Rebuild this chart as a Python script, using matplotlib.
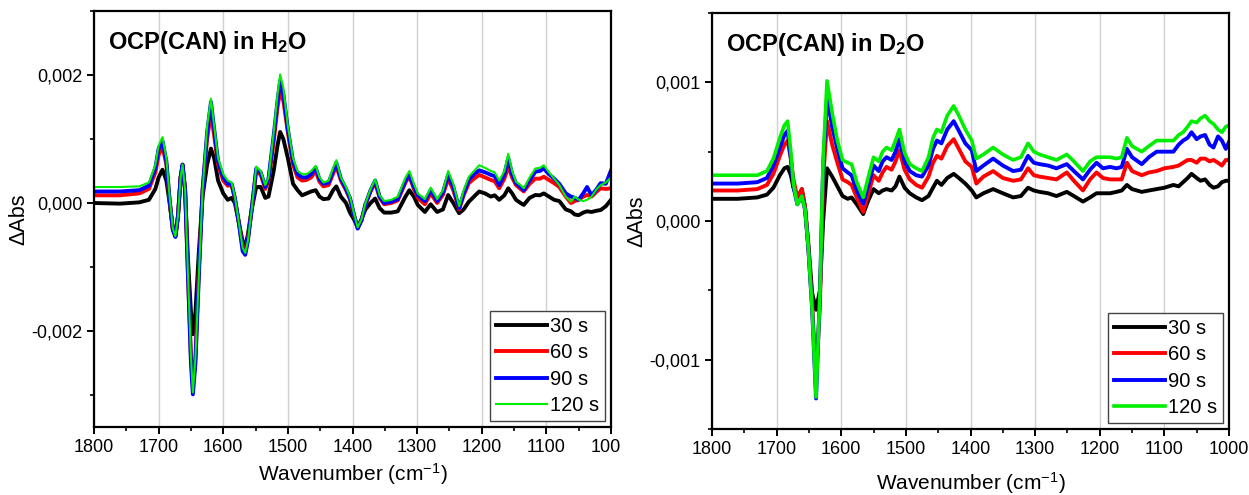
import matplotlib
matplotlib.use("Agg")
import matplotlib.pyplot as plt
from matplotlib.ticker import MultipleLocator, FuncFormatter
from matplotlib.transforms import Bbox

plt.rcParams['font.family'] = ['Liberation Sans', 'DejaVu Sans']
plt.rcParams['mathtext.fontset'] = 'custom'
plt.rcParams['mathtext.rm'] = 'Liberation Sans'
plt.rcParams['mathtext.bf'] = 'Liberation Sans:bold'
plt.rcParams['mathtext.default'] = 'regular'

# ---------------- data: left panel (H2O) ----------------
wn_h2o = [1800, 1760, 1730, 1715, 1705, 1700, 1694, 1688, 1683, 1678, 1674, 1670, 1666, 1663, 1659,
          1655, 1650, 1647, 1643, 1638, 1632, 1625, 1619, 1614, 1608, 1600, 1593, 1587, 1582, 1576,
          1570, 1566, 1562, 1556, 1549, 1542, 1535, 1530, 1522, 1516, 1512, 1507, 1500, 1492, 1485,
          1478, 1471, 1464, 1457, 1451, 1445, 1437, 1430, 1425, 1418, 1410, 1404, 1398, 1392, 1386,
          1380, 1372, 1365, 1358, 1351, 1340, 1330, 1318, 1312, 1305, 1299, 1288, 1279, 1269, 1260,
          1252, 1244, 1235, 1228, 1220, 1212, 1204, 1195, 1186, 1180, 1173, 1165, 1159, 1153, 1147,
          1140, 1135, 1126, 1117, 1110, 1104, 1096, 1088, 1080, 1070, 1062, 1056, 1050, 1043, 1037,
          1030, 1022, 1016, 1008, 1000]
h2o_30 = [0.0, -0.00001, 0.00001, 0.00005, 0.00022, 0.0004, 0.00052, 0.00035, 0.0, -0.0004, -0.00052, -0.0002, 0.0004, 0.00058, 0.0002,
          -0.0008, -0.0017, -0.00205, -0.0017, -0.0008, 0.0001, 0.0006, 0.00085, 0.0007, 0.00035, 0.00015, 0.00005, 0.00008, 0.0, -0.0003,
          -0.0006, -0.00068, -0.0005, -0.0001, 0.00025, 0.00025, 0.00008, 0.0001, 0.0005, 0.0009, 0.00111, 0.001, 0.0007, 0.0003, 0.0002,
          0.00012, 0.00015, 0.00018, 0.0002, 0.0001, 0.00006, 0.00007, 0.0002, 0.00026, 0.0001, 0.0, -0.00015, -0.00025, -0.00038, -0.00025,
          -0.0001, 0.0, 0.00007, -0.00008, -0.00015, -0.00015, -0.00013, 0.0001, 0.0002, 0.0001, -0.00003, -0.00014, -0.00002, -0.00014, -0.0001,
          0.000125, 0.0, -0.00016, -0.0001, 0.00002, 0.0001, 0.00018, 0.00015, 0.0001, 0.00012, 0.00005, 0.00012, 0.00023, 0.00015, 0.00005,
          0.0, -0.00003, 0.00008, 0.000125, 0.00012, 0.00015, 0.0001, 0.00005, 0.00003, -0.0001, -0.00013, -0.00018, -0.00019, -0.00015, -0.00013,
          -0.00014, -0.00012, -0.00011, -0.00005, 0.00005]
h2o_60 = [0.00012, 0.00012, 0.00015, 0.00022, 0.00048, 0.00075, 0.00088, 0.0006, 0.00003, -0.00042, -0.00052, -0.0002, 0.0004, 0.0006, 0.0002,
          -0.001, -0.0024, -0.00286, -0.0024, -0.0011, 0.0002, 0.001, 0.0014, 0.00105, 0.0006, 0.00035, 0.00027, 0.00028, 0.00006, -0.0003,
          -0.0007, -0.00076, -0.00057, -0.0001, 0.0005, 0.00044, 0.00022, 0.00034, 0.00095, 0.0015, 0.00173, 0.0016, 0.0011, 0.0006, 0.0004,
          0.00035, 0.00036, 0.0004, 0.0005, 0.00033, 0.00026, 0.00028, 0.00046, 0.00058, 0.00035, 0.0002, 0.00006, -0.00018, -0.00039, -0.00027,
          -0.00003, 0.00018, 0.00032, 0.00008, -0.00002, 0.0, 0.00004, 0.00032, 0.00042, 0.00022, 0.00008, -0.00002, 0.00015, 0.0, 0.00013,
          0.00038, 0.0002, -0.0001, 0.00012, 0.00031, 0.00038, 0.00044, 0.0004, 0.00036, 0.00034, 0.00023, 0.00038, 0.00057, 0.0004, 0.00028,
          0.00022, 0.00018, 0.0003, 0.00038, 0.00038, 0.00041, 0.00036, 0.00031, 0.00025, 0.0001, 0.0, 0.00003, 0.00005, 0.0001, 0.000125,
          0.0001, 0.00018, 0.00023, 0.00022, 0.00023]
h2o_90 = [0.00018, 0.00018, 0.0002, 0.00027, 0.00055, 0.00085, 0.00097, 0.00065, 0.00005, -0.00042, -0.00053, -0.0002, 0.0004, 0.0006, 0.0002,
          -0.001, -0.0025, -0.00299, -0.0025, -0.0012, 0.0002, 0.0011, 0.00158, 0.00115, 0.00065, 0.0004, 0.0003, 0.0003, 0.00008, -0.0003,
          -0.00075, -0.00081, -0.0006, -0.0001, 0.00054, 0.00048, 0.00025, 0.00038, 0.00105, 0.0016, 0.00191, 0.0017, 0.00115, 0.00065, 0.00045,
          0.0004, 0.0004, 0.00045, 0.00055, 0.00037, 0.0003, 0.00032, 0.0005, 0.00063, 0.00038, 0.00022, 0.00008, -0.00017, -0.0004, -0.00027,
          -0.00002, 0.0002, 0.00035, 0.0001, 0.0, 0.00002, 0.00006, 0.00035, 0.00044, 0.00025, 0.00012, 0.00003, 0.0002, 0.00003, 0.00017,
          0.00044, 0.00025, -0.00008, 0.00015, 0.00036, 0.00045, 0.00051, 0.00048, 0.00044, 0.00042, 0.00028, 0.00045, 0.0007, 0.00045, 0.00031,
          0.00025, 0.0002, 0.00035, 0.00049, 0.0005, 0.00054, 0.00045, 0.00038, 0.0003, 0.00015, 0.0001, 0.00008, 0.00005, 0.00015, 0.00025,
          0.00012, 0.00022, 0.00031, 0.0003, 0.00051]
h2o_120 = [0.00025, 0.00025, 0.00026, 0.00032, 0.0006, 0.0009, 0.00103, 0.0007, 0.0001, -0.0004, -0.00052, -0.0002, 0.0004, 0.0006, 0.0002,
           -0.001, -0.0024, -0.00296, -0.0024, -0.0012, 0.0002, 0.0012, 0.00163, 0.0012, 0.0007, 0.00045, 0.00035, 0.00032, 0.0001, -0.0003,
           -0.0007, -0.00078, -0.0006, -0.0001, 0.00057, 0.0005, 0.00028, 0.0004, 0.0011, 0.0017, 0.00201, 0.0018, 0.0012, 0.0007, 0.0005,
           0.00045, 0.00045, 0.0005, 0.00058, 0.0004, 0.00032, 0.00035, 0.00055, 0.00067, 0.0004, 0.00025, 0.0001, -0.00015, -0.00038, -0.00025,
           0.0, 0.00022, 0.00037, 0.00012, 0.00003, 0.00005, 0.0001, 0.0004, 0.0005, 0.0003, 0.00015, 0.00006, 0.00024, 0.00006, 0.0002,
           0.0005, 0.0003, -0.00005, 0.0002, 0.00041, 0.0005, 0.00059, 0.00055, 0.0005, 0.00048, 0.00035, 0.0005, 0.00077, 0.0005, 0.00033,
           0.00028, 0.00023, 0.0004, 0.00054, 0.00055, 0.00059, 0.00048, 0.00038, 0.00028, 0.0001, 0.00002, 0.0001, 0.00005, 0.00003, 0.00005,
           0.0001, 0.00022, 0.00028, 0.00032, 0.0004]

# ---------------- data: right panel (D2O) ----------------
wn_d2o = [1800, 1760, 1730, 1715, 1705, 1695, 1688, 1683, 1678, 1674, 1668, 1661, 1656, 1651, 1645,
          1639, 1633, 1628, 1622, 1614, 1606, 1598, 1590, 1584, 1576, 1566, 1558, 1550, 1542, 1536,
          1530, 1522, 1516, 1510, 1502, 1494, 1484, 1475, 1465, 1458, 1452, 1445, 1436, 1426, 1418,
          1408, 1398, 1391, 1380, 1365, 1350, 1334, 1322, 1311, 1302, 1293, 1280, 1267, 1251, 1240,
          1226, 1215, 1205, 1195, 1184, 1174, 1166, 1158, 1150, 1135, 1124, 1112, 1100, 1086, 1078,
          1071, 1064, 1058, 1050, 1044, 1037, 1030, 1024, 1017, 1011, 1005, 1000]
d2o_30 = [0.00016, 0.00016, 0.00017, 0.00019, 0.00024, 0.00033, 0.00038, 0.00039, 0.00033, 0.00024, 0.00016, 0.00023, 0.0001, -0.00016, -0.00052,
          -0.00064, -0.0005, 0.0, 0.00038, 0.00032, 0.00025, 0.00018, 0.00016, 0.00017, 0.00012, 0.00005, 0.00015, 0.00023, 0.0002, 0.00022,
          0.00023, 0.00022, 0.00025, 0.00032, 0.00024, 0.0002, 0.00017, 0.00015, 0.00018, 0.00024, 0.00029, 0.00026, 0.00031, 0.00034, 0.00031,
          0.00027, 0.00022, 0.00017, 0.0002, 0.00023, 0.0002, 0.00017, 0.00018, 0.00024, 0.00022, 0.00021, 0.0002, 0.00018, 0.00021, 0.00018,
          0.00014, 0.00017, 0.0002, 0.0002, 0.0002, 0.00021, 0.00022, 0.00026, 0.00023, 0.00021, 0.00022, 0.00023, 0.00024, 0.00026, 0.00025,
          0.00028, 0.00031, 0.00034, 0.00031, 0.00029, 0.0003, 0.00026, 0.00024, 0.00025, 0.00028, 0.00029, 0.00029]
d2o_60 = [0.00022, 0.00022, 0.00023, 0.00026, 0.00034, 0.00047, 0.00055, 0.00058, 0.00045, 0.0003, 0.00017, 0.00023, 0.0001, -0.00019, -0.0006,
          -0.00114, -0.0006, 0.0003, 0.00072, 0.00055, 0.00042, 0.0003, 0.00028, 0.00026, 0.00017, 0.000065, 0.0002, 0.00033, 0.00029, 0.00035,
          0.00039, 0.00037, 0.00043, 0.00051, 0.00037, 0.0003, 0.00026, 0.00024, 0.00032, 0.00042, 0.00047, 0.00045, 0.00054, 0.00059, 0.00052,
          0.00043, 0.00039, 0.00027, 0.00032, 0.00036, 0.00031, 0.00029, 0.0003, 0.00038, 0.00033, 0.00032, 0.00031, 0.0003, 0.00035, 0.00029,
          0.00022, 0.0003, 0.00035, 0.00031, 0.0003, 0.0003, 0.0003, 0.00042, 0.00036, 0.00033, 0.00035, 0.00036, 0.00038, 0.00039, 0.0004,
          0.00042, 0.00044, 0.00044, 0.00042, 0.00045, 0.00045, 0.00043, 0.00044, 0.00042, 0.0004, 0.00044, 0.00044]
d2o_90 = [0.00027, 0.00027, 0.00028, 0.00031, 0.0004, 0.00053, 0.00062, 0.00065, 0.00045, 0.00025, 0.00012, 0.00018, 0.00008, -0.00019, -0.00064,
          -0.00128, -0.00052, 0.0004, 0.00089, 0.00068, 0.00052, 0.00038, 0.00035, 0.00033, 0.00022, 0.000125, 0.00026, 0.0004, 0.00036, 0.00043,
          0.00046, 0.00044, 0.0005, 0.00059, 0.00043, 0.00036, 0.00033, 0.00032, 0.0004, 0.00052, 0.00058, 0.00056, 0.00066, 0.00072, 0.00065,
          0.00056, 0.00051, 0.00036, 0.0004, 0.00045, 0.0004, 0.00036, 0.00037, 0.00047, 0.00042, 0.00041, 0.0004, 0.00038, 0.00041, 0.00036,
          0.0003, 0.00037, 0.00042, 0.00038, 0.00039, 0.00038, 0.00039, 0.00052, 0.00046, 0.00041, 0.00046, 0.0005, 0.0005, 0.0005, 0.00055,
          0.00058, 0.0006, 0.00064, 0.00059, 0.00061, 0.00062, 0.00055, 0.00053, 0.00061, 0.00058, 0.00052, 0.00057]
d2o_120 = [0.00033, 0.00033, 0.00033, 0.00036, 0.00045, 0.0006, 0.00069, 0.00072, 0.0005, 0.00027, 0.00012, 0.00018, 0.00008, -0.00019, -0.00064,
           -0.00127, -0.00052, 0.00045, 0.00101, 0.00078, 0.00058, 0.00044, 0.00042, 0.00041, 0.00028, 0.00017, 0.00032, 0.00046, 0.00043, 0.0005,
           0.00053, 0.00051, 0.00058, 0.00066, 0.00049, 0.00041, 0.00038, 0.00036, 0.00046, 0.0006, 0.00066, 0.00064, 0.00076, 0.00083, 0.00076,
           0.00066, 0.00058, 0.00045, 0.00048, 0.00053, 0.00048, 0.00044, 0.00046, 0.00056, 0.0005, 0.00048, 0.00046, 0.00044, 0.00048, 0.00043,
           0.00036, 0.00043, 0.00046, 0.00046, 0.00046, 0.00045, 0.00046, 0.0006, 0.00054, 0.0005, 0.00054, 0.00058, 0.00058, 0.00058, 0.00062,
           0.00064, 0.00068, 0.00072, 0.00071, 0.00074, 0.00076, 0.00072, 0.0007, 0.00066, 0.00064, 0.00068, 0.00069]

labels = ["30 s", "60 s", "90 s", "120 s"]
colors = ["#000000", "#ff0000", "#0000ff", "#00ee00"]
xticks = [1800, 1700, 1600, 1500, 1400, 1300, 1200, 1100, 1000]

fig = plt.figure(figsize=(12.49, 4.95), dpi=100)
axL = fig.add_axes([94/1249, 1-427/495, (611-94)/1249, (427-11)/495])
axR = fig.add_axes([712/1249, 1-429/495, (1229-712)/1249, (429-13)/495])

def fmt(v, pos):
    return f"{v:.3f}".replace(".", ",").replace("\u2212", "-")

def style(ax, ylim, ymaj, title, xlabelpad):
    ax.set_xlim(1800, 1000)
    ax.set_ylim(*ylim)
    ax.set_xticks(xticks)
    ax.xaxis.set_minor_locator(MultipleLocator(50))
    ax.yaxis.set_major_locator(MultipleLocator(ymaj))
    ax.yaxis.set_minor_locator(MultipleLocator(ymaj / 2))
    ax.yaxis.set_major_formatter(FuncFormatter(fmt))
    ax.grid(axis='x', which='major', color='#d0d0d0', lw=1.0)
    ax.set_axisbelow(True)
    for s in ax.spines.values():
        s.set_linewidth(1.6)
    ax.tick_params(which='major', direction='out', length=5, width=1.4, labelsize=13,
                   top=False, right=False)
    ax.tick_params(which='minor', direction='out', length=3, width=1.2, top=False, right=False)
    ax.set_xlabel("Wavenumber (cm$^{-1}$)", fontsize=15, labelpad=xlabelpad)
    ax.set_ylabel("\u0394Abs", fontsize=15.5, labelpad=1)
    ax.text(0.027, 0.925, title, transform=ax.transAxes, fontsize=17, fontweight='bold',
            ha='left', va='center')

def draw(ax, wn, series, lw_green):
    for vals, lab, c in zip(series, labels, colors):
        lw = lw_green if lab == "120 s" else 2.8
        ax.plot(wn, vals, color=c, lw=lw, label=lab, solid_joinstyle='round')
    leg = ax.legend(loc='lower right', fontsize=14.5, frameon=True, fancybox=False,
                    edgecolor='#444444', framealpha=1, handlelength=2.5, handletextpad=0.15,
                    labelspacing=0.36, borderpad=0.3, borderaxespad=0.3)
    leg.get_frame().set_linewidth(1.0)

draw(axL, wn_h2o, [h2o_30, h2o_60, h2o_90, h2o_120], 1.5)
style(axL, (-0.0035, 0.003), 0.002, r"OCP(CAN) in H$\mathbf{_2}$O", 4)
draw(axR, wn_d2o, [d2o_30, d2o_60, d2o_90, d2o_120], 2.6)
style(axR, (-0.0015, 0.0015), 0.001, r"OCP(CAN) in D$\mathbf{_2}$O", 9)

# the last tick label of the left panel is cut by the neighbouring panel
fig.canvas.draw()
clip = Bbox.from_extents(0, 0, 621, 495)
for lab in axL.get_xticklabels():
    lab.set_clip_on(True)
    lab.set_clip_box(clip)

fig.savefig("out.png", dpi=100)
